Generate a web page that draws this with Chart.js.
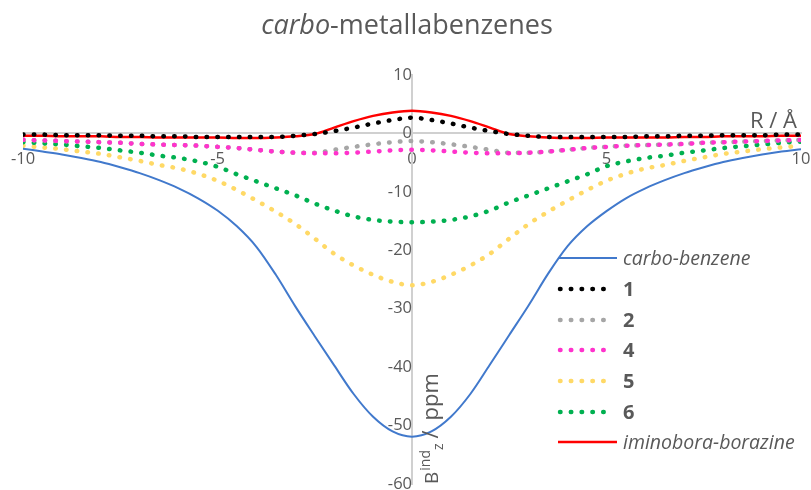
<!DOCTYPE html>
<html>
<head>
<meta charset="utf-8">
<script src="https://cdn.jsdelivr.net/npm/chart.js@4.4.1/dist/chart.umd.min.js"></script>
<style>
html,body{margin:0;padding:0;background:#fff}
#wrap{position:relative;width:811px;height:490px}
</style>
</head>
<body>
<div id="wrap"><canvas id="c" width="811" height="490"></canvas></div>
<script>
// R / Å sample points
const R = [-10,-9.5,-9,-8.5,-8,-7.5,-7,-6.5,-6,-5.5,-5,-4.5,-4,-3.5,-3,-2.5,-2,-1.5,-1,-0.5,0,
  0.5,1,1.5,2,2.5,3,3.5,4,4.5,5,5.5,6,6.5,7,7.5,8,8.5,9,9.5,10];

// B_z^ind / ppm
const carboBenzene = [-2.6,-3.1,-3.6,-4.2,-4.9,-5.8,-6.8,-8.0,-9.4,-11.1,-13.2,-15.9,-19.4,-24.2,-29.6,-34.7,-39.7,-44.6,-48.5,-51.0,-51.9,
  -51.0,-48.5,-44.6,-39.6,-34.5,-29.4,-24.0,-19.3,-15.9,-13.3,-11.1,-9.4,-8.0,-6.8,-5.8,-4.9,-4.2,-3.6,-3.1,-2.7];
const s1 = [-0.2,-0.2,-0.3,-0.3,-0.3,-0.4,-0.4,-0.5,-0.5,-0.6,-0.6,-0.6,-0.6,-0.6,-0.4,-0.1,0.4,1.0,1.7,2.3,2.7,
  2.3,1.7,1.0,0.4,-0.1,-0.4,-0.6,-0.6,-0.6,-0.6,-0.6,-0.5,-0.5,-0.4,-0.4,-0.3,-0.3,-0.3,-0.2,-0.2];
const s2 = [-1.1,-1.2,-1.3,-1.4,-1.5,-1.6,-1.8,-1.9,-2.0,-2.1,-2.3,-2.5,-2.8,-3.1,-3.3,-3.3,-2.8,-2.3,-1.85,-1.5,-1.3,
  -1.5,-1.85,-2.3,-2.8,-3.3,-3.3,-3.1,-2.8,-2.5,-2.3,-2.1,-2.0,-1.9,-1.8,-1.6,-1.5,-1.4,-1.3,-1.2,-1.1];
const s4 = [-1.1,-1.2,-1.3,-1.4,-1.5,-1.6,-1.8,-1.9,-2.0,-2.1,-2.3,-2.5,-2.8,-3.1,-3.3,-3.4,-3.4,-3.3,-3.1,-2.9,-2.8,
  -2.9,-3.1,-3.3,-3.4,-3.4,-3.3,-3.1,-2.8,-2.5,-2.3,-2.1,-2.0,-1.9,-1.8,-1.6,-1.5,-1.4,-1.3,-1.2,-1.1];
const s5 = [-2.1,-2.4,-2.7,-3.1,-3.5,-4.1,-4.7,-5.4,-6.0,-6.9,-8.1,-9.7,-11.5,-13.4,-15.5,-18.0,-20.6,-22.6,-24.2,-25.4,-26.0,
  -25.4,-24.2,-22.6,-20.6,-18.0,-15.5,-13.4,-11.5,-9.7,-8.1,-6.9,-6.0,-5.4,-4.7,-4.1,-3.5,-3.1,-2.7,-2.4,-2.1];
const s6 = [-1.5,-1.7,-1.9,-2.2,-2.5,-2.9,-3.3,-3.8,-4.2,-4.8,-5.7,-7.0,-8.2,-9.4,-10.6,-12.0,-13.2,-14.2,-14.8,-15.1,-15.2,
  -15.1,-14.8,-14.2,-13.2,-11.8,-10.6,-9.4,-8.2,-7.0,-5.6,-4.8,-4.2,-3.8,-3.3,-2.9,-2.5,-2.2,-1.9,-1.6,-1.4];
const iminoboraBorazine = [-0.4,-0.4,-0.5,-0.5,-0.5,-0.6,-0.6,-0.7,-0.7,-0.7,-0.7,-0.8,-0.8,-0.7,-0.5,-0.1,1.0,2.1,3.0,3.6,3.9,
  3.6,3.0,2.1,1.0,-0.1,-0.5,-0.7,-0.8,-0.8,-0.7,-0.7,-0.7,-0.7,-0.6,-0.6,-0.5,-0.5,-0.5,-0.4,-0.4];

const seriesNames = ['carbo-benzene','1','2','4','5','6','iminobora-borazine'];
const xTicks = [-10,-5,0,5,10];
const yTicks = [10,0,-10,-20,-30,-40,-50,-60];

const GREY = '#595959';
const FONT = '"Open Sans", Lato, sans-serif';
const DOTS = [0.5,10.3];

function pts(arr){ return R.map((r,i)=>({x:r,y:arr[i]})) }
function solid(label, arr, color, w, order){
  return {label, data:pts(arr), borderColor:color, borderWidth:w, pointRadius:0, cubicInterpolationMode:'monotone', fill:false, order, _dotted:false};
}
function dotted(label, arr, color, order){
  return {label, data:pts(arr), borderColor:color, borderWidth:4.5, borderDash:DOTS, borderCapStyle:'round',
    pointRadius:0, cubicInterpolationMode:'monotone', fill:false, order, _dotted:true};
}

// lower order is drawn on top
const datasets = [
  solid(seriesNames[0], carboBenzene, '#4179CC', 2, 0),
  dotted(seriesNames[1], s1, '#000000', 1),
  dotted(seriesNames[2], s2, '#A6A6A6', 4),
  dotted(seriesNames[3], s4, '#FF33CC', 3),
  dotted(seriesNames[4], s5, '#FFD966', 6),
  dotted(seriesNames[5], s6, '#00B050', 5),
  solid(seriesNames[6], iminoboraBorazine, '#FF0000', 2.5, 2)
];

// title, axis titles and legend drawn on the canvas
const decor = {
  id:'decor',
  afterDraw(chart){
    const ctx = chart.ctx;
    ctx.save();
    ctx.fillStyle = GREY;
    ctx.textBaseline = 'alphabetic';
    // title
    ctx.font = 'italic 27px '+FONT;
    const a = 'carbo'; const wa = ctx.measureText(a).width;
    ctx.font = '27px '+FONT;
    const b = '-metallabenzenes'; const wb = ctx.measureText(b).width;
    let tx = 407 - (wa+wb)/2;
    ctx.font = 'italic 27px '+FONT; ctx.fillText(a, tx, 34);
    ctx.font = '27px '+FONT; ctx.fillText(b, tx+wa, 34);
    // x axis title
    ctx.font = '22px '+FONT; ctx.textAlign = 'right';
    ctx.fillText('R / Å', 797, 128);
    ctx.textAlign = 'left';
    // y axis title, rotated
    ctx.save();
    ctx.translate(438, 484); ctx.rotate(-Math.PI/2);
    let x = 0;
    ctx.font = '19px '+FONT; ctx.fillText('B', x, 0); x += ctx.measureText('B').width + 1;
    ctx.font = '14px '+FONT; ctx.fillText('ind', x, -8); const wi = ctx.measureText('ind').width;
    ctx.fillText('z', x + wi, 5); x += wi + ctx.measureText('z').width + 5;
    ctx.font = '22px '+FONT; ctx.fillText('/', x, 0); x += ctx.measureText('/').width + 10;
    ctx.fillText('ppm', x, 0);
    ctx.restore();
    // legend
    const rowY = [258, 289, 320, 350, 381, 412, 442];
    chart.data.datasets.forEach((ds,i)=>{
      const y = rowY[i];
      ctx.save();
      ctx.strokeStyle = ds.borderColor; ctx.lineWidth = ds.borderWidth;
      if(ds._dotted){ ctx.setLineDash(DOTS); ctx.lineCap='round'; }
      ctx.beginPath(); ctx.moveTo(ds._dotted?560:558, y); ctx.lineTo(ds._dotted?614:617, y); ctx.stroke();
      ctx.restore();
      const isNum = /^\d+$/.test(ds.label);
      ctx.font = (isNum ? 'bold 20px ' : 'italic 19.5px ') + FONT;
      ctx.fillStyle = GREY; ctx.textBaseline = 'middle';
      ctx.fillText(ds.label, 623, y+1);
    });
    ctx.restore();
  }
};

new Chart(document.getElementById('c'), {
  type:'line',
  data:{datasets},
  plugins:[decor],
  options:{
    responsive:false, animation:false, events:[],
    layout:{padding:{left:23, right:10, top:75, bottom:6}},
    plugins:{legend:{display:false}, title:{display:false}, tooltip:{enabled:false}},
    scales:{
      x:{type:'linear', min:-10, max:10, position:{y:0},
        afterFit(s){ s.height=0; s.paddingLeft=0; s.paddingRight=0; },
        afterBuildTicks(s){ s.ticks = xTicks.map(v=>({value:v})); },
        grid:{display:false, drawTicks:false},
        border:{display:true, color:'#D0D0D0', width:2},
        ticks:{padding:16, color:GREY, font:{family:FONT, size:16.5}, maxRotation:0, autoSkip:false}
      },
      y:{type:'linear', min:-60, max:10, position:{x:0},
        afterFit(s){ s.width=0; s.paddingTop=0; s.paddingBottom=0; },
        afterBuildTicks(s){ s.ticks = yTicks.map(v=>({value:v})); },
        grid:{display:false, drawTicks:false},
        border:{display:true, color:'#D0D0D0', width:2},
        ticks:{padding:18, color:GREY, font:{family:FONT, size:16.5}, autoSkip:false}
      }
    }
  }
});
</script>
</body>
</html>
